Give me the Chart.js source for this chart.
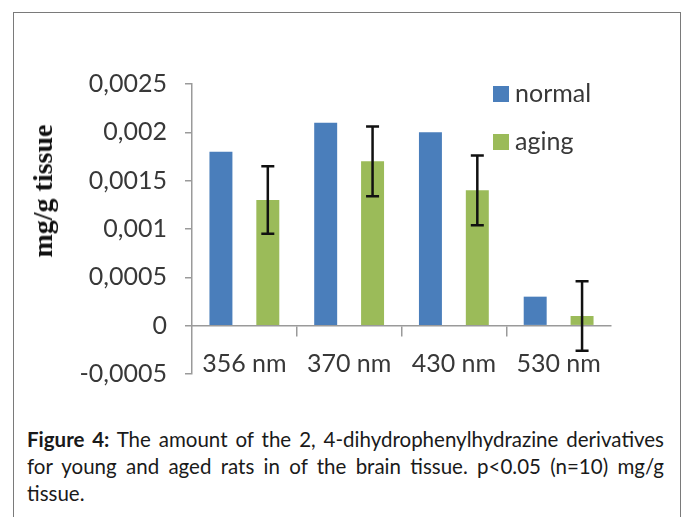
<!DOCTYPE html>
<html>
<head>
<meta charset="utf-8">
<script src="https://cdn.jsdelivr.net/npm/chart.js@4.4.0/dist/chart.umd.min.js"></script>
<style>
  html, body { margin: 0; padding: 0; background: #fff; width: 686px; height: 517px; overflow: hidden; }
  #frame { position: absolute; left: 13px; top: 12px; width: 666px; height: 540px;
           border: 1px solid #7a7a7a; border-bottom: none; }
  #chart { position: absolute; left: 0; top: 0; }
  #ytitle { position: absolute; left: 43px; top: 191px; transform: translate(-50%, -50%) rotate(-90deg);
            font-family: "Liberation Serif", serif; font-weight: bold; font-size: 28px; color: #111;
            white-space: nowrap; }
  #caption { position: absolute; left: 27px; top: 426px; width: 637px;
             font-family: Lato, "Open Sans", sans-serif; font-size: 20.5px; color: #1a1a1a; line-height: 27px; }
  #caption .j { text-align: justify; text-align-last: justify; }
</style>
</head>
<body>
<div id="frame"></div>
<canvas id="chart" width="686" height="407"></canvas>
<div id="ytitle">mg/g tissue</div>
<div id="caption">
  <div class="j"><b>Figure 4:</b> The amount of the 2, 4-dihydrophenylhydrazine derivatives</div>
  <div class="j">for young and aged rats in of the brain tissue. p&lt;0.05 (n=10) mg/g</div>
  <div>tissue.</div>
</div>
<script>
const categories = ["356 nm", "370 nm", "430 nm", "530 nm"];
const normalValues = [0.0018, 0.0021, 0.0020, 0.0003];
const agingValues = [0.0013, 0.0017, 0.0014, 0.0001];
const agingErrors = [0.00035, 0.00036, 0.00036, 0.00036];
const seriesNames = ["normal", "aging"];
const yMin = -0.0005, yMax = 0.0025, yStep = 0.0005;

const AXIS = "#9a9a9a";
const TEXT = "#383838";
const FONT = "Lato, 'Open Sans', sans-serif";

const errorBars = {
  id: "errorBars",
  afterDatasetsDraw(chart) {
    const ctx = chart.ctx;
    const meta = chart.getDatasetMeta(1);
    const ys = chart.scales.y;
    ctx.save();
    ctx.strokeStyle = "#111";
    ctx.lineWidth = 2.5;
    meta.data.forEach((bar, i) => {
      const v = agingValues[i], e = agingErrors[i];
      const yTop = ys.getPixelForValue(v + e);
      const yBot = ys.getPixelForValue(v - e);
      const x = bar.x, cap = 6.5;
      ctx.beginPath();
      ctx.moveTo(x, yTop); ctx.lineTo(x, yBot);
      ctx.moveTo(x - cap, yTop); ctx.lineTo(x + cap, yTop);
      ctx.moveTo(x - cap, yBot); ctx.lineTo(x + cap, yBot);
      ctx.stroke();
    });
    ctx.restore();
  }
};

const customLegend = {
  id: "customLegend",
  afterDraw(chart) {
    const ctx = chart.ctx;
    ctx.save();
    ctx.font = "25px " + FONT;
    ctx.textBaseline = "middle";
    ctx.textAlign = "left";
    chart.data.datasets.forEach((ds, i) => {
      const y = 94 + i * 48;
      ctx.fillStyle = ds.backgroundColor;
      ctx.fillRect(493, y - 8, 16, 16);
      ctx.fillStyle = TEXT;
      ctx.fillText(ds.label, 515, y);
    });
    ctx.restore();
  }
};

new Chart(document.getElementById("chart"), {
  type: "bar",
  data: {
    labels: categories,
    datasets: [
      { label: seriesNames[0], data: normalValues, backgroundColor: "#4a7ebb" },
      { label: seriesNames[1], data: agingValues, backgroundColor: "#9bbb59" }
    ]
  },
  options: {
    responsive: false,
    animation: false,
    devicePixelRatio: 1,
    categoryPercentage: 0.895,
    barPercentage: 0.49,
    layout: { padding: { left: 0, top: 84, right: 75, bottom: 22 } },
    plugins: { legend: { display: false }, tooltip: { enabled: false } },
    scales: {
      x: {
        position: { y: 0 },
        grid: {
          offset: true,
          drawOnChartArea: false,
          drawTicks: true,
          tickLength: 10,
          lineWidth: 1.5,
          color: (c) => (c.type === "scale" || c.index === 0) ? "rgba(0,0,0,0)" : AXIS
        },
        border: { display: true, color: AXIS, width: 1.5 },
        ticks: { color: TEXT, font: { family: FONT, size: 25 }, padding: 13, maxRotation: 0 }
      },
      y: {
        min: yMin,
        max: yMax,
        afterFit(scale) { scale.width = 192; },
        grid: { drawOnChartArea: false, drawTicks: true, tickLength: 7, color: AXIS, lineWidth: 1.5 },
        border: { display: true, color: AXIS, width: 1.5 },
        ticks: {
          stepSize: yStep,
          color: TEXT,
          padding: 18,
          font: { family: FONT, size: 25 },
          callback: (v) => String(+Number(v).toFixed(4)).replace(".", ",")
        }
      }
    }
  },
  plugins: [errorBars, customLegend]
});
</script>
</body>
</html>
